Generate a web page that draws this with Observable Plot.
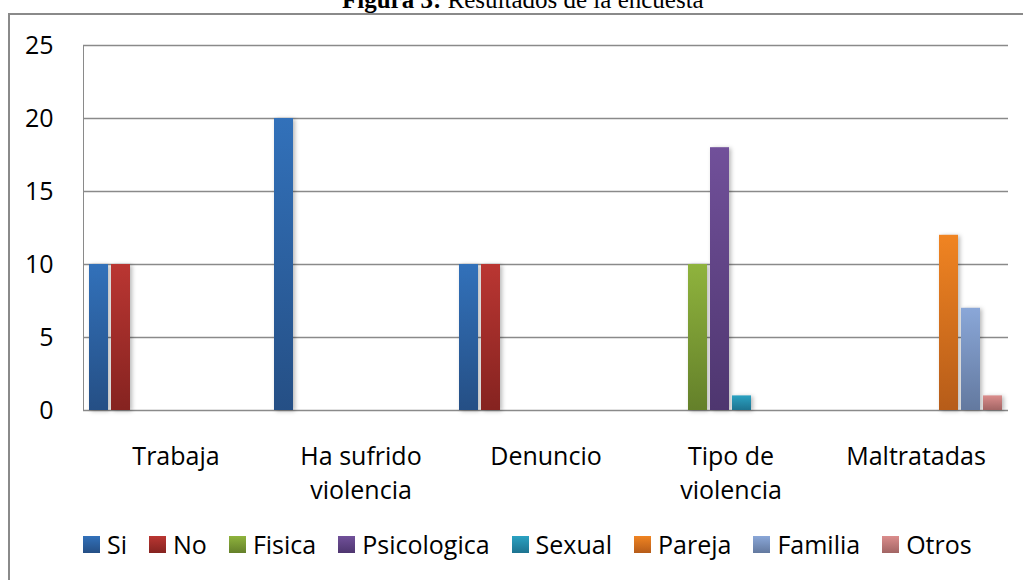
<!DOCTYPE html>
<html><head><meta charset="utf-8">
<script src="https://cdn.jsdelivr.net/npm/d3@7"></script>
<script src="https://cdn.jsdelivr.net/npm/@observablehq/plot@0.6"></script>
<style>
html,body{margin:0;padding:0;background:#fff;overflow:hidden;width:1023px;height:580px;position:relative}
#frame{position:absolute;left:8px;top:13px;width:1100px;height:700px;border:2px solid #8a8a8a;box-sizing:border-box}
#title{position:absolute;left:342px;top:-13px;font-family:"Liberation Serif";font-size:25px;line-height:25px;white-space:nowrap;color:#000}
#chart{position:absolute;left:0;top:0}
#chart svg text{fill:#000}
#legend{position:absolute;left:83px;top:530px;display:flex;align-items:center;font-family:"Open Sans";font-size:25px;line-height:28px;white-space:nowrap;color:#000}
.item{display:flex;align-items:center;margin-right:22px}
.sw{width:17px;height:17px;margin-right:7px}
</style></head>
<body>
<div id="frame"></div>
<div id="title"><b>Figura 3:</b> Resultados de la encuesta</div>
<div id="chart"></div>
<div id="legend"></div>
<script>
// ---- data ----
const categories = ["Trabaja", "Ha sufrido violencia", "Denuncio", "Tipo de violencia", "Maltratadas"];
const categoryLabels = ["Trabaja", "Ha sufrido\nviolencia", "Denuncio", "Tipo de\nviolencia", "Maltratadas"];
const series = ["Si", "No", "Fisica", "Psicologica", "Sexual", "Pareja", "Familia", "Otros"];
const si          = [10, 20, 10, 0, 0];
const no          = [10, 0, 10, 0, 0];
const fisica      = [0, 0, 0, 10, 0];
const psicologica = [0, 0, 0, 18, 0];
const sexual      = [0, 0, 0, 1, 0];
const pareja      = [0, 0, 0, 0, 12];
const familia     = [0, 0, 0, 0, 7];
const otros       = [0, 0, 0, 0, 1];
const yTicks = [0, 5, 10, 15, 20, 25];
const topColors    = ["#3271ba", "#ba3632", "#8fb33d", "#71509a", "#2ba2c2", "#f08422", "#8aa7d8", "#db8d8c"];
const bottomColors = ["#254f85", "#852320", "#64802a", "#4e366f", "#1d7390", "#b65c19", "#63799f", "#a26564"];

const values = [si, no, fisica, psicologica, sexual, pareja, familia, otros];
const rows = [];
categories.forEach((c, ci) => series.forEach((s, k) => {
  const v = values[k][ci];
  if (v > 0) rows.push({cat: c, series: s, value: v});
}));

const chart = Plot.plot({
  width: 1023,
  height: 510,
  marginLeft: 83,
  marginRight: 15,
  marginTop: 45,
  marginBottom: 100,
  style: {color: "#8a8a8a", fontFamily: "'Open Sans'", fontSize: "25px", background: "transparent", overflow: "visible"},
  facet: {data: rows, x: "cat"},
  fx: {domain: categories, padding: 0, axis: null, label: null},
  x: {domain: series, paddingInner: 0.136, paddingOuter: 0.27, axis: null},
  y: {domain: [0, 25], ticks: 5, tickSize: 0, tickPadding: 30, line: true, label: null},
  color: {domain: series, range: series.map((s, i) => `url(#grad${i})`)},
  marks: [
    Plot.ruleY(yTicks, {stroke: "#8a8a8a", strokeWidth: 1.6}),
    Plot.barY(rows, {x: "series", y: "value", fill: "series"}),
    Plot.text(rows, Plot.selectFirst({
      text: d => categoryLabels[categories.indexOf(d.cat)],
      frameAnchor: "bottom", lineAnchor: "top", dy: 30, lineHeight: 1.38, fill: "#000"
    }))
  ]
});
document.getElementById("chart").appendChild(chart);

// gradients
const ns = "http://www.w3.org/2000/svg";
const defs = document.createElementNS(ns, "defs");
series.forEach((s, i) => {
  const g = document.createElementNS(ns, "linearGradient");
  g.setAttribute("id", `grad${i}`);
  g.setAttribute("x1", "0"); g.setAttribute("y1", "0");
  g.setAttribute("x2", "0"); g.setAttribute("y2", "1");
  [[0, topColors[i]], [1, bottomColors[i]]].forEach(([o, c]) => {
    const st = document.createElementNS(ns, "stop");
    st.setAttribute("offset", o);
    st.setAttribute("stop-color", c);
    g.appendChild(st);
  });
  defs.appendChild(g);
});
chart.insertBefore(defs, chart.firstChild);
chart.querySelectorAll('g[aria-label="bar"]').forEach(g => g.style.filter = "drop-shadow(2px 1px 2px rgba(0,0,0,0.28))");

// legend
const legend = d3.select("#legend");
series.forEach((s, i) => {
  const it = legend.append("div").attr("class", "item");
  it.append("div").attr("class", "sw").style("background", `linear-gradient(${topColors[i]}, ${bottomColors[i]})`);
  it.append("span").text(s);
});
</script>
</body></html>
